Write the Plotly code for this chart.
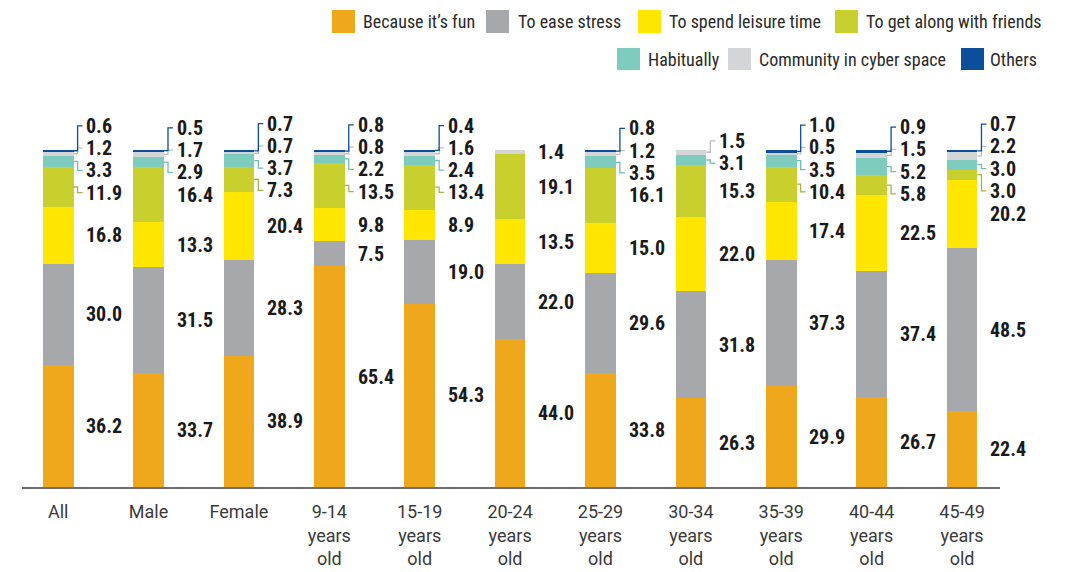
import plotly.graph_objects as go

categories = ["All", "Male", "Female", "9-14 years old", "15-19 years old", "20-24 years old",
              "25-29 years old", "30-34 years old", "35-39 years old", "40-44 years old", "45-49 years old"]
tick_labels = ["All", "Male", "Female", "9-14<br>years<br>old", "15-19<br>years<br>old", "20-24<br>years<br>old",
               "25-29<br>years<br>old", "30-34<br>years<br>old", "35-39<br>years<br>old", "40-44<br>years<br>old",
               "45-49<br>years<br>old"]

series_names = ["Because it\u2019s fun", "To ease stress", "To spend leisure time", "To get along with friends",
                "Habitually", "Community in cyber space", "Others"]

fun = [36.2, 33.7, 38.9, 65.4, 54.3, 44.0, 33.8, 26.3, 29.9, 26.7, 22.4]
stress = [30.0, 31.5, 28.3, 7.5, 19.0, 22.0, 29.6, 31.8, 37.3, 37.4, 48.5]
leisure = [16.8, 13.3, 20.4, 9.8, 8.9, 13.5, 15.0, 22.0, 17.4, 22.5, 20.2]
friends = [11.9, 16.4, 7.3, 13.5, 13.4, 19.1, 16.1, 15.3, 10.4, 5.8, 3.0]
habitually = [3.3, 2.9, 3.7, 2.2, 2.4, 0.0, 3.5, 3.1, 3.5, 5.2, 3.0]
community = [1.2, 1.7, 0.7, 0.8, 1.6, 1.4, 1.2, 1.5, 0.5, 1.5, 2.2]
others = [0.6, 0.5, 0.7, 0.8, 0.4, 0.0, 0.8, 0.0, 1.0, 0.9, 0.7]

series_values = [fun, stress, leisure, friends, habitually, community, others]
colors = ["#EFA71B", "#A7A8AB", "#FFE600", "#C9CF2C", "#7ECCBE", "#D4D5D7", "#0C4E9B"]
leader_colors = ["#EFA71B", "#A7A8AB", "#E8D000", "#A9B24A", "#6FBFB0", "#BDBEC0", "#0C4E9B"]

NARROW = "Roboto Condensed, DejaVu Sans Condensed, sans-serif"
REGULAR = "Roboto, DejaVu Sans, sans-serif"

W, H = 1067, 572
OFF = 8  # page body margin
# target pixel geometry on the page
PLOT_L, PLOT_R, PLOT_T, PLOT_B = 22, 1000, 116, 487
L = PLOT_L - OFF
T = PLOT_T - OFF
R = W - (PLOT_R - OFF)
B = H - (PLOT_B - OFF)
PW, PH = PLOT_R - PLOT_L, PLOT_B - PLOT_T
X0, X1 = -0.4, 10.42
Y0, Y1 = 0, 110

fig = go.Figure()
for name, vals, col in zip(series_names, series_values, colors):
    fig.add_trace(go.Bar(x=categories, y=vals, name=name, marker=dict(color=col, line=dict(width=0)),
                         width=0.34, showlegend=False, hoverinfo="skip"))


def place(mids, gap=6.6, bias=1.2):
    clusters = [[k] for k in range(len(mids))]

    def start(c):
        center = sum(mids[k] for k in c) / len(c) + (bias if len(c) > 1 else 0)
        return center - (len(c) - 1) * gap / 2

    changed = True
    while changed:
        changed = False
        for j in range(len(clusters) - 1):
            a, b = clusters[j], clusters[j + 1]
            top_a = start(a) + (len(a) - 1) * gap
            if start(b) - top_a < gap:
                clusters[j] = a + b
                del clusters[j + 1]
                changed = True
                break
    pos = {}
    for c in clusters:
        s = start(c)
        for n, k in enumerate(c):
            pos[k] = s + n * gap
    return [pos[k] for k in range(len(mids))]


annotations = []
shapes = []
half = 0.17
for i in range(len(categories)):
    segs = []
    base = 0.0
    for s, vals in enumerate(series_values):
        v = vals[i]
        if v > 0:
            segs.append((s, v, base + v / 2))
        base += v
    labs = place([m for _, _, m in segs])
    for (s, v, mid), lab in zip(segs, labs):
        annotations.append(dict(x=i + 0.29, y=lab, xref="x", yref="y", text=f"{v:.1f}", showarrow=False,
                                xanchor="left", yanchor="middle",
                                font=dict(family=NARROW, size=20, color="#1A1A1A", weight="bold")))
        if abs(lab - mid) > 0.4:
            e = i + half
            path = (f"M {e},{mid} L {e + 0.045},{mid} L {e + 0.045},{lab} L {e + 0.1},{lab}")
            shapes.append(dict(type="path", path=path, xref="x", yref="y",
                               line=dict(color=leader_colors[s], width=1.3)))


def px2paper(px, py):
    return (px - PLOT_L) / PW, (PLOT_B - py) / PH


# manual legend (two rows, right aligned as in reference)
legend_rows = [
    [(0, 332, 361), (1, 486, 516), (2, 638, 667), (3, 835, 864)],
    [(4, 617, 646), (5, 728, 757), (6, 961, 988)],
]
row_y = [(10, 33), (48, 70)]
for r, items in enumerate(legend_rows):
    y_top, y_bot = row_y[r]
    for s, sx, tx in items:
        x0p, y0p = px2paper(sx, y_bot)
        x1p, y1p = px2paper(sx + 23, y_top)
        shapes.append(dict(type="rect", xref="paper", yref="paper", x0=x0p, x1=x1p, y0=y0p, y1=y1p,
                           fillcolor=colors[s], line=dict(width=0), layer="above"))
        txp, typ = px2paper(tx, (y_top + y_bot) / 2)
        annotations.append(dict(x=txp, y=typ, xref="paper", yref="paper", text=series_names[s], showarrow=False,
                                xanchor="left", yanchor="middle",
                                font=dict(family=NARROW, size=18, color="#2A2A2A")))

fig.update_layout(
    barmode="stack",
    width=W, height=H,
    margin=dict(l=L, r=R, t=T, b=B, pad=0),
    paper_bgcolor="white", plot_bgcolor="white",
    bargap=0.0,
    xaxis=dict(type="category", categoryorder="array", categoryarray=categories,
               tickvals=categories, ticktext=tick_labels, range=[X0, X1],
               showline=True, linecolor="#6E6E6E", linewidth=1.6, ticks="", showgrid=False, zeroline=False,
               ticklabelstandoff=8,
               tickfont=dict(family=REGULAR, size=18, color="#3A3A3A")),
    yaxis=dict(range=[Y0, Y1], visible=False, showgrid=False, zeroline=False),
    annotations=annotations,
    shapes=shapes,
    showlegend=False,
)

fig.write_html("out.html")
